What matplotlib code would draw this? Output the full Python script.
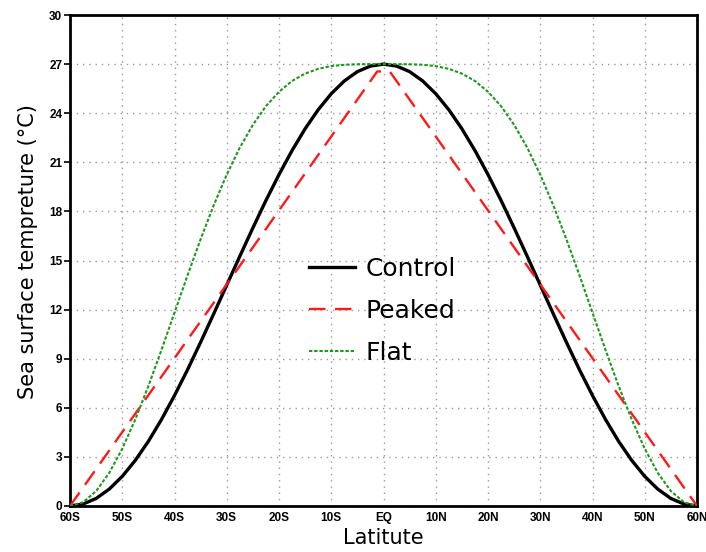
import matplotlib
matplotlib.use("Agg")
import matplotlib.pyplot as plt

# Latitude grid (negative = south)
lat = [-60, -57.5, -55, -52.5, -50, -47.5, -45, -42.5, -40, -37.5, -35, -32.5, -30,
       -27.5, -25, -22.5, -20, -17.5, -15, -12.5, -10, -7.5, -5, -2.5, 0,
       2.5, 5, 7.5, 10, 12.5, 15, 17.5, 20, 22.5, 25, 27.5, 30,
       32.5, 35, 37.5, 40, 42.5, 45, 47.5, 50, 52.5, 55, 57.5, 60]

control_half = [27.0, 26.88, 26.54, 25.97, 25.19, 24.21, 23.05, 21.72, 20.25, 18.67,
                16.99, 15.26, 13.5, 11.74, 10.01, 8.33, 6.75, 5.28, 3.95, 2.79,
                1.81, 1.03, 0.46, 0.12, 0.0]
flat_half = [27.0, 27.0, 26.99, 26.96, 26.88, 26.71, 26.42, 25.97, 25.31, 24.43,
             23.29, 21.90, 20.25, 18.37, 16.30, 14.10, 11.81, 9.53, 7.33, 5.29,
             3.50, 2.02, 0.91, 0.23, 0.0]
control = control_half[::-1] + control_half[1:]
flat = flat_half[::-1] + flat_half[1:]

peaked_lat = [-60, -1.2, 1.2, 60]
peaked = [0.0, 26.55, 26.55, 0.0]

xticks = [-60, -50, -40, -30, -20, -10, 0, 10, 20, 30, 40, 50, 60]
xticklabels = ["60S", "50S", "40S", "30S", "20S", "10S", "EQ", "10N", "20N", "30N", "40N", "50N", "60N"]
yticks = [0, 3, 6, 9, 12, 15, 18, 21, 24, 27, 30]

fig = plt.figure(figsize=(7.06, 5.52), dpi=100)
ax = fig.add_axes([70/706, 1-506/552, 627/706, 491/552])

ax.plot(lat, control, color="black", lw=2.4, label="Control", zorder=3)
ax.plot(peaked_lat, peaked, color="#ff1a1a", lw=1.7, dashes=(7, 4), label="Peaked", zorder=3)
ax.plot(lat, flat, color="#1a9a1a", lw=1.5, dashes=(1.6, 0.9), label="Flat", zorder=3)

ax.set_xlim(-60, 60)
ax.set_ylim(0, 30)
ax.set_xticks(xticks)
ax.set_xticklabels(xticklabels)
ax.set_yticks(yticks)
for lab in ax.get_xticklabels() + ax.get_yticklabels():
    lab.set_fontweight("bold")
    lab.set_fontsize(8.5)
    lab.set_family("Liberation Sans")
ax.tick_params(axis="both", direction="out", length=4, width=1.2, pad=1.5)
ax.tick_params(axis="x", length=0, pad=4)

ax.grid(True, color="#999999", linestyle=(0, (1, 3.5)), lw=1.0)
for s in ax.spines.values():
    s.set_linewidth(2.0)

ax.set_xlabel("Latitute", fontsize=15)
ax.xaxis.set_label_coords(0.5, -(538-506)/491, transform=ax.transAxes)
ax.set_ylabel("Sea surface tempreture (°C)", fontsize=15)
ax.yaxis.set_label_coords(-(70-28)/627, (506-252)/491, transform=ax.transAxes)
ax.xaxis.label.set_va("center")
ax.yaxis.label.set_va("center")

leg = ax.legend(loc="center left", bbox_to_anchor=((309-70)/627, (506-311)/491),
                frameon=False, fontsize=18, handlelength=1.85, labelspacing=0.72,
                handletextpad=0.4, borderpad=0, borderaxespad=0)

fig.savefig("out.png", dpi=100, facecolor="white")
